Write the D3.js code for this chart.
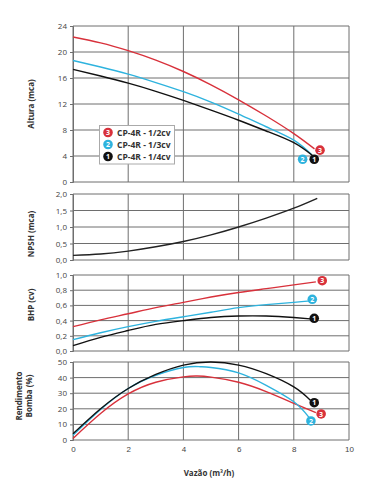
<!DOCTYPE html>
<html><head><meta charset="utf-8">
<script src="https://cdn.jsdelivr.net/npm/d3@7"></script>
<style>
body{margin:0;background:#fff;}
svg{display:block;font-family:"Open Sans",sans-serif;}
</style></head>
<body><svg id="c" width="370" height="500"></svg>
<script>
// ---- data ----
const xTicks = [0,2,4,6,8,10];
const alturaTicks = [0,4,8,12,16,20,24];
const npshTicks = [0,0.5,1.0,1.5,2.0];
const bhpTicks = [0,0.2,0.4,0.6,0.8,1.0];
const rendTicks = [0,10,20,30,40,50];

const seriesNames = ["CP-4R - 1/2cv","CP-4R - 1/3cv","CP-4R - 1/4cv"];
const seriesIds = ["3","2","1"];
const seriesColors = ["#d8313b","#2eb3de","#111111"];

// Altura (mca)
const alturaX3 = [0,1,2,3,4,5,6,7,8,8.75];
const altura3  = [22.3,21.4,20.2,18.75,17.0,14.95,12.65,10.15,7.45,5.1];
const alturaX2 = [0,1,2,3,4,5,6,7,8,8.65];
const altura2  = [18.7,17.7,16.6,15.3,13.9,12.3,10.45,8.5,6.45,4.2];
const alturaX1 = [0,1,2,3,4,5,6,7,8,8.7];
const altura1  = [17.33,16.3,15.2,13.95,12.55,11.05,9.5,7.85,6.05,4.0];
const alturaMarkX = [8.95,8.32,8.74];
const alturaMarkY = [4.9,3.5,3.5];

// NPSH (mca)
const npshX = [0,1,2,3,4,5,6,7,8,8.85];
const npsh  = [0.14,0.18,0.27,0.40,0.56,0.76,1.0,1.27,1.57,1.87];

// BHP (cv)
const bhpX3 = [0,1,2,3,4,5,6,7,8,8.8];
const bhp3  = [0.32,0.41,0.49,0.57,0.64,0.71,0.77,0.82,0.87,0.91];
const bhpX2 = [0,1,2,3,4,5,6,7,8,8.6];
const bhp2  = [0.15,0.24,0.32,0.39,0.45,0.51,0.57,0.61,0.64,0.66];
const bhpX1 = [0,1,2,3,4,5,6,7,8,8.7];
const bhp1  = [0.07,0.18,0.27,0.35,0.40,0.44,0.46,0.46,0.44,0.42];
const bhpMarkX = [9.03,8.67,8.74];
const bhpMarkY = [0.925,0.68,0.43];

// Rendimento Bomba (%)
const rendX3 = [0,1,2,3,4,4.5,5,6,7,8,8.8];
const rend3  = [1,17,29.5,37,40.5,41,40.3,37,31,23.5,17.5];
const rendX2 = [0,1,2,3,4,4.6,5,6,7,8,8.55];
const rend2  = [3,19.5,33,41.5,46.5,47,46.5,43,35,24.5,14.5];
const rendX1 = [0,1,2,3,4,5,6,7,8,8.6];
const rend1  = [4,20,33,42,48,50,48,42.5,34,25.5];
const rendMarkX = [8.99,8.62,8.74];
const rendMarkY = [16.7,12.2,23.9];

// ---- drawing ----
const svg = d3.select("#c");
const x = d3.scaleLinear().domain([0,10]).range([73,349]);
const gridCol = "#6e6e6e", tickCol = "#444";

function panel(cfg){
  const y = d3.scaleLinear().domain(cfg.domain).range(cfg.range);
  const g = svg.append("g");
  g.selectAll(".hg").data(cfg.ticks).join("line")
    .attr("x1",x(0)).attr("x2",x(10)).attr("y1",d=>y(d)).attr("y2",d=>y(d))
    .attr("stroke",gridCol).attr("stroke-width",1);
  g.selectAll(".vg").data(xTicks).join("line")
    .attr("x1",d=>x(d)).attr("x2",d=>x(d)).attr("y1",y(cfg.domain[0])).attr("y2",y(cfg.domain[1]))
    .attr("stroke",gridCol).attr("stroke-width",1);
  const ax = g.append("g").attr("transform",`translate(${x(0)},0)`)
    .call(d3.axisLeft(y).tickValues(cfg.ticks).tickSize(3).tickPadding(3).tickFormat(cfg.fmt));
  ax.select(".domain").attr("stroke",gridCol);
  ax.selectAll(".tick line").attr("stroke",gridCol);
  ax.selectAll("text").attr("fill",tickCol).style("font-size","8px").style("font-family","'Open Sans',sans-serif");
  const t = g.append("text").attr("transform",`translate(${cfg.tx},${cfg.ty}) rotate(-90)`)
    .attr("text-anchor","middle").attr("fill","#333").style("font-size","8px").style("font-weight","bold");
  cfg.title.forEach((s,i)=>t.append("tspan").attr("x",0).attr("dy",i===0?0:10).text(s));
  const line = d3.line().x(d=>x(d[0])).y(d=>y(d[1])).curve(d3.curveNatural);
  cfg.series.forEach(s=>{
    g.append("path").datum(s.xs.map((v,i)=>[v,s.ys[i]]))
      .attr("d",line).attr("fill","none").attr("stroke",s.color).attr("stroke-width",1.4);
  });
  if(cfg.marks){
    cfg.marks.xs.forEach((mx,i)=>{
      marker(g, x(mx), y(cfg.marks.ys[i]), i);
    });
  }
  return y;
}
function marker(g,cx,cy,i){
  g.append("circle").attr("cx",cx).attr("cy",cy).attr("r",4.8).attr("fill",seriesColors[i]);
  g.append("text").attr("x",cx).attr("y",cy+2.6).attr("text-anchor","middle")
    .attr("fill","#fff").style("font-size","7px").style("font-weight","bold").text(seriesIds[i]);
}

panel({domain:[0,24],range:[182,26],ticks:alturaTicks,fmt:d3.format("d"),
  title:["Altura (mca)"],tx:34,ty:104,
  series:[{xs:alturaX3,ys:altura3,color:seriesColors[0]},{xs:alturaX2,ys:altura2,color:seriesColors[1]},{xs:alturaX1,ys:altura1,color:seriesColors[2]}],
  marks:{xs:alturaMarkX,ys:alturaMarkY}});

const comma1 = d=>d3.format(".1f")(d).replace(".",",");
panel({domain:[0,2],range:[260,194],ticks:npshTicks,fmt:comma1,
  title:["NPSH (mca)"],tx:34,ty:234,
  series:[{xs:npshX,ys:npsh,color:"#222"}]});

panel({domain:[0,1],range:[351,275],ticks:bhpTicks,fmt:comma1,
  title:["BHP (cv)"],tx:34,ty:305,
  series:[{xs:bhpX3,ys:bhp3,color:seriesColors[0]},{xs:bhpX2,ys:bhp2,color:seriesColors[1]},{xs:bhpX1,ys:bhp1,color:seriesColors[2]}],
  marks:{xs:bhpMarkX,ys:bhpMarkY}});

panel({domain:[0,50],range:[440,362],ticks:rendTicks,fmt:d3.format("d"),
  title:["Rendimento","Bomba (%)"],tx:22,ty:396,
  series:[{xs:rendX3,ys:rend3,color:seriesColors[0]},{xs:rendX2,ys:rend2,color:seriesColors[1]},{xs:rendX1,ys:rend1,color:seriesColors[2]}],
  marks:{xs:rendMarkX,ys:rendMarkY}});

const xa = svg.append("g").attr("transform","translate(0,440)")
  .call(d3.axisBottom(x).tickValues(xTicks).tickSize(0).tickPadding(6).tickFormat(d3.format("d")));
xa.select(".domain").remove();
xa.selectAll("text").attr("fill",tickCol).style("font-size","8px");
svg.append("text").attr("x",209).attr("y",476).attr("text-anchor","middle")
  .attr("fill","#333").style("font-size","8px").style("font-weight","bold").text("Vazão (m³/h)");

const lg = svg.append("g");
lg.append("rect").attr("x",99.5).attr("y",125.5).attr("width",75).attr("height",38.5)
  .attr("fill","#fff").attr("stroke","#aaa").attr("stroke-width",1);
seriesNames.forEach((n,i)=>{
  const cy = 132.5 + i*12;
  marker(lg,108,cy,i);
  lg.append("text").attr("x",117).attr("y",cy+3.2).attr("fill","#333")
    .style("font-size","8.5px").style("font-weight","bold").text(n);
});
</script></body></html>
